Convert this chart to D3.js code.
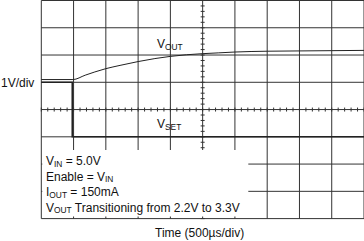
<!DOCTYPE html>
<html>
<head>
<meta charset="utf-8">
<script src="https://cdn.jsdelivr.net/npm/d3@7"></script>
<style>
  html, body { margin: 0; padding: 0; background: #fff; }
  svg { display: block; font-family: "Liberation Sans", Arial, Helvetica, sans-serif; }
</style>
</head>
<body>
<svg id="chart" width="364" height="241"></svg>
<script>
// scope capture, 500us/div horizontal, 1V/div vertical
var timeDivs = d3.range(0, 5001, 500);
var voltDivs = d3.range(0, 9).map(function(k) { return -2.9 + k; });

// V_OUT trace (us, V)
var voutTime = [0, 490, 680, 830, 1000, 1220, 1500, 1760, 2000, 2250, 2500, 2750, 3000, 3500, 4000, 4500, 5000];
var voutVolt = [2.2, 2.2, 2.36, 2.48, 2.6, 2.72, 2.86, 2.97, 3.05, 3.11, 3.15, 3.18, 3.21, 3.24, 3.25, 3.26, 3.27];

// V_SET trace
var vsetTime = [0, 480, 480, 5000];
var vsetVolt = [2.1, 2.1, 0.1, 0.1];

var notes = [
  [["V", ""], ["IN", "sub"], [" = 5.0V", ""]],
  [["Enable = V", ""], ["IN", "sub"]],
  [["I", ""], ["OUT", "sub"], [" = 150mA", ""]],
  [["V", ""], ["OUT", "sub"], [" Transitioning from 2.2V to 3.3V", ""]]
];

var draw = function() {
  var svg = d3.select("#chart");
  var left = 41.3, plotTop = 0.5, w = 322.7, h = 218.1;

  var x = d3.scaleLinear().domain([0, 5000]).range([left, left + w]);
  var y = d3.scaleLinear().domain([-2.9, 5.1]).range([plotTop + h, plotTop]);

  var g = svg.append("g");

  // grid
  g.selectAll("line.vg").data(timeDivs).enter().append("line")
    .attr("class", "vg")
    .attr("x1", function(d) { return x(d); }).attr("x2", function(d) { return x(d); })
    .attr("y1", plotTop).attr("y2", plotTop + h)
    .attr("stroke", "#333").attr("stroke-width", 1);
  g.selectAll("line.hg").data(voltDivs).enter().append("line")
    .attr("class", "hg")
    .attr("x1", left).attr("x2", left + w)
    .attr("y1", function(d) { return y(d); }).attr("y2", function(d) { return y(d); })
    .attr("stroke", "#333").attr("stroke-width", 1);

  // centre axis minor ticks
  var xMid = x(2500), yMid = y(1.1);
  var tMinor = d3.range(0, 5001, 100);
  var vMinor = d3.range(0, 41).map(function(k) { return -2.9 + k * 0.2; });
  g.selectAll("line.tx").data(tMinor).enter().append("line")
    .attr("class", "tx")
    .attr("x1", function(d) { return x(d); }).attr("x2", function(d) { return x(d); })
    .attr("y1", yMid - 2).attr("y2", yMid + 2)
    .attr("stroke", "#333").attr("stroke-width", 1);
  g.selectAll("line.ty").data(vMinor).enter().append("line")
    .attr("class", "ty")
    .attr("x1", xMid - 2).attr("x2", xMid + 2)
    .attr("y1", function(d) { return y(d); }).attr("y2", function(d) { return y(d); })
    .attr("stroke", "#333").attr("stroke-width", 1);

  // traces
  var line = d3.line()
    .x(function(d) { return x(d[0]); })
    .y(function(d) { return y(d[1]); });

  g.append("path")
    .datum(d3.zip(vsetTime, vsetVolt))
    .attr("d", line)
    .attr("fill", "none").attr("stroke", "#222").attr("stroke-width", 1.6);

  g.append("path")
    .datum(d3.zip(voutTime, voutVolt))
    .attr("d", line.curve(d3.curveMonotoneX))
    .attr("fill", "none").attr("stroke", "#222").attr("stroke-width", 1);

  // white notes box over grid
  g.append("rect")
    .attr("x", left + 1).attr("y", 150)
    .attr("width", 206).attr("height", 66.5)
    .attr("fill", "#fff");

  var subText = function(sel, parts, size) {
    parts.forEach(function(p, i) {
      var t = sel.append("tspan").text(p[0]);
      if (p[1] === "sub") {
        t.attr("font-size", size * 0.7).attr("dy", 1.8);
      } else if (i > 0) {
        t.attr("dy", -1.8);
      }
    });
  };

  var nt = svg.append("g").attr("font-size", 12).attr("fill", "#111");
  notes.forEach(function(n, i) {
    var t = nt.append("text").attr("x", 46).attr("y", 165 + i * 15.5);
    subText(t, n, 12);
  });

  var l1 = svg.append("text").attr("x", 157).attr("y", 48).attr("font-size", 12).attr("fill", "#111");
  subText(l1, [["V", ""], ["OUT", "sub"]], 12);
  var l2 = svg.append("text").attr("x", 157).attr("y", 128).attr("font-size", 12).attr("fill", "#111");
  subText(l2, [["V", ""], ["SET", "sub"]], 12);

  svg.append("text").attr("x", 1).attr("y", 87).attr("font-size", 12).attr("fill", "#111").text("1V/div");
  svg.append("text").attr("x", 155).attr("y", 237).attr("font-size", 12).attr("fill", "#111").text("Time (500\u00b5s/div)");
};
draw();
</script>
</body>
</html>
